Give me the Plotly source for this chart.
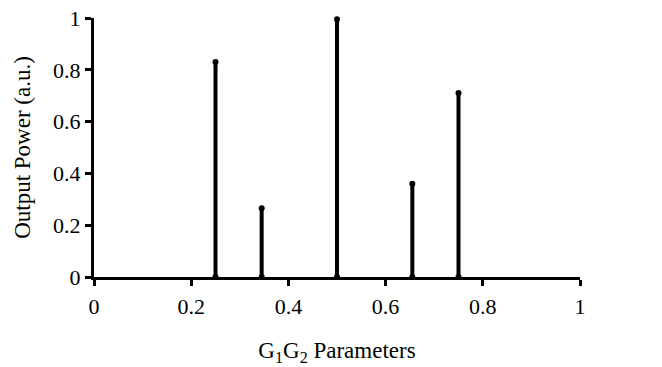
import plotly.graph_objects as go

# Peak positions (G1G2 parameter) and output power heights
peak_x = [0.25, 0.345, 0.5, 0.655, 0.75]
peak_h = [0.83, 0.265, 0.995, 0.36, 0.71]

x_ticks = [0, 0.2, 0.4, 0.6, 0.8, 1]
x_tick_labels = ["0", "0.2", "0.4", "0.6", "0.8", "1"]
y_ticks = [0, 0.2, 0.4, 0.6, 0.8, 1]
y_tick_labels = ["0", "0.2", "0.4", "0.6", "0.8", "1"]

fig = go.Figure()

for px, ph in zip(peak_x, peak_h):
    fig.add_trace(go.Scatter(
        x=[px, px], y=[0, ph], mode="lines+markers",
        line=dict(color="black", width=4),
        marker=dict(color="black", size=6),
        showlegend=False, cliponaxis=False, hoverinfo="x+y",
    ))

font = dict(family="Liberation Serif", color="black", size=22)
title_font = dict(family="Liberation Serif", color="black", size=23)

fig.update_layout(
    width=662, height=367,
    margin=dict(l=86, r=90, t=10, b=98, pad=0),
    plot_bgcolor="white", paper_bgcolor="white",
    font=font,
    showlegend=False,
)
fig.update_xaxes(
    range=[0, 1], tickvals=x_ticks, ticktext=x_tick_labels,
    showgrid=False, zeroline=False, automargin=False,
    showline=True, linecolor="black", linewidth=3,
    ticks="outside", ticklen=6, tickwidth=3, tickcolor="black",
    ticklabelstandoff=2, ticklabeloverflow="allow",
    title=dict(text="G<sub>1</sub>G<sub>2</sub> Parameters", font=title_font, standoff=24),
    tickfont=font,
)
fig.update_yaxes(
    range=[0, 1], tickvals=y_ticks, ticktext=y_tick_labels,
    showgrid=False, zeroline=False, automargin=False,
    showline=True, linecolor="black", linewidth=3,
    ticks="outside", ticklen=6, tickwidth=3, tickcolor="black",
    ticklabeloverflow="allow",
    title=dict(text="Output Power (a.u.)", font=title_font, standoff=17),
    tickfont=font,
)

fig.write_html("out.html")
